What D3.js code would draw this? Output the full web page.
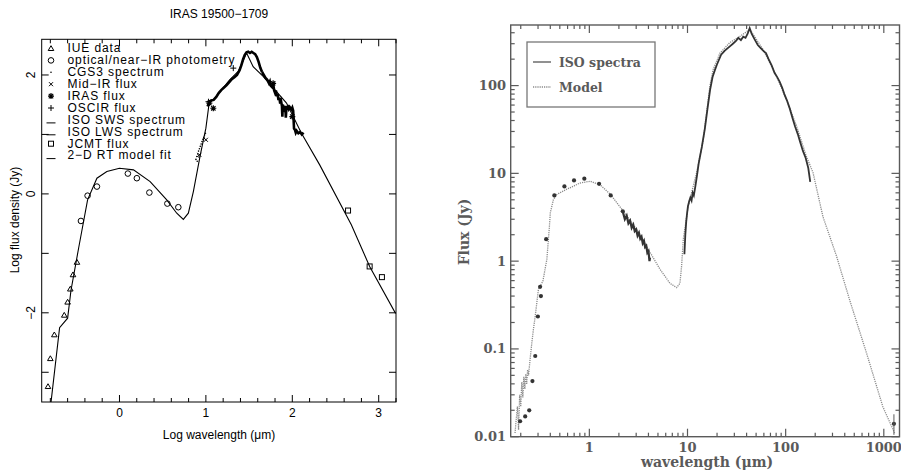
<!DOCTYPE html>
<html>
<head lang="en">
    <meta charset="UTF-8">
    <title>IRAS 19500-1709 SED</title>
    <script type="text/javascript" src="https://d3js.org/d3.v7.min.js"></script>
    <style type="text/css">
        body { margin: 0; background: #fff; }
        .lt { font-family: "Liberation Sans", Arial, sans-serif; font-size: 12px; fill: #000; }
        .rt { font-family: "DejaVu Serif", "Liberation Serif", serif; font-weight: bold; fill: #5a5a5a; }
    </style>
</head>
<body>
<script type="text/javascript">
    // ---------- left panel data (log10 um, log10 Jy) ----------
    var iueData = [[-0.827,-3.24],[-0.80,-2.77],[-0.754,-2.37],[-0.639,-2.04],[-0.60,-1.82],[-0.569,-1.60],[-0.538,-1.36],[-0.492,-1.15]];
    var optData = [[-0.446,-0.455],[-0.369,-0.03],[-0.261,0.123],[0.097,0.342],[0.201,0.264],[0.346,0.022],[0.554,-0.163],[0.681,-0.224]];
    var cgs3Data = [[0.885,0.58],[0.895,0.63],[0.905,0.67],[0.915,0.72],[0.925,0.76],[0.935,0.80],[0.945,0.84],[0.955,0.88],[0.965,0.92],[0.975,0.95],[0.985,0.99],[0.995,1.02],[0.90,0.55],[0.92,0.62]];
    var midIrData = [[0.924,0.657],[1.0,0.91]];
    var irasData = [[1.04,1.527],[1.086,1.44],[1.778,1.86],[2.0,1.30]];
    var oscirData = [[1.317,2.115],[1.03,1.55]];
    var swsData = [[1.02,1.47],[1.04,1.55],[1.06,1.57],[1.09,1.58],[1.12,1.63],[1.15,1.70],[1.18,1.75],[1.21,1.79],[1.24,1.83],[1.27,1.88],[1.30,1.93],[1.33,1.96],[1.36,2.00],[1.39,2.08],[1.41,2.16],[1.43,2.26],[1.45,2.34],[1.47,2.38],[1.49,2.39],[1.51,2.37],[1.53,2.39],[1.55,2.37],[1.57,2.35],[1.59,2.30],[1.61,2.22],[1.63,2.12],[1.65,2.05]];
    var lwsData = [[1.65,2.05],[1.67,2.00],[1.69,1.95],[1.71,1.92],[1.73,1.86],[1.74,1.89],[1.75,1.82],[1.77,1.79],[1.78,1.84],[1.79,1.74],[1.80,1.70],[1.81,1.74],[1.82,1.64],[1.83,1.68],[1.84,1.58],[1.85,1.62],[1.86,1.52],[1.87,1.56],[1.88,1.48],[1.885,1.30],[1.89,1.50],[1.90,1.46],[1.91,1.42],[1.92,1.48],[1.925,1.28],[1.93,1.40],[1.94,1.46],[1.95,1.47],[1.96,1.43],[1.97,1.46],[1.98,1.44],[1.99,1.42],[2.00,1.45],[2.01,1.40],[2.015,1.25],[2.02,1.10],[2.03,1.08],[2.04,1.03],[2.05,1.06],[2.07,1.02],[2.09,1.04],[2.11,1.00],[2.13,1.03]];
    var jcmtData = [[2.645,-0.28],[2.895,-1.22],[3.037,-1.40]];
    var modelLeft = [[-0.792,-3.5],[-0.693,-2.25],[-0.60,-2.09],[-0.561,-1.62],[-0.473,-0.914],[-0.369,-0.10],[-0.261,0.264],[-0.146,0.376],[0.0,0.432],[0.162,0.404],[0.355,0.207],[0.547,-0.10],[0.663,-0.325],[0.739,-0.43],[0.797,-0.325],[0.855,0.04],[0.932,0.63],[1.0,1.105],[1.04,1.55],[1.086,1.58],[1.278,1.92],[1.374,2.06],[1.471,2.37],[1.547,2.14],[1.663,1.975],[1.933,1.527],[2.106,1.02],[2.317,0.488],[2.683,-0.52],[2.895,-1.22],[3.195,-2.01]];
    var legendLabels = ["IUE data","optical/near\u2212IR photometry","CGS3 spectrum","Mid\u2212IR flux","IRAS flux","OSCIR flux","ISO SWS spectrum","ISO LWS spectrum","JCMT flux","2\u2212D RT model fit"];
    var leftXTicks = [0,1,2,3];
    var leftYTicks = [2,0,-2];

    // ---------- right panel data (um, Jy) ----------
    var modelRight = [[0.175,0.011],[0.180,0.016],[0.185,0.022],[0.19,0.012],[0.195,0.03],[0.20,0.022],[0.205,0.042],[0.21,0.028],[0.215,0.048],[0.22,0.035],[0.225,0.052],[0.23,0.04],[0.235,0.058],[0.24,0.05],[0.249,0.076],[0.26,0.12],[0.269,0.166],[0.28,0.23],[0.303,0.48],[0.336,0.59],[0.369,1.05],[0.392,2.5],[0.40,3.55],[0.43,5.0],[0.466,5.75],[0.589,6.6],[0.70,7.2],[0.80,7.76],[1.02,8.13],[1.29,7.4],[1.63,5.8],[2.22,3.7],[3.03,2.3],[4.15,1.26],[5.24,0.81],[6.62,0.56],[7.75,0.50],[8.37,0.56],[8.7,0.87],[9.06,1.78],[10.2,4.3],[12.4,10.2],[14.5,24.5],[16.9,98],[18.2,151],[21.4,234],[27.0,309],[34.1,363],[43.2,437],[58.9,257],[80.5,129],[101.9,69],[128.8,35],[162,15.8],[190,10.2],[240,3.2],[329,1.15],[449,0.36],[664,0.091],[977,0.022],[1288,0.011]];
    var isoNearIr = [[2.2,3.6],[2.3,3.0],[2.4,3.3],[2.5,2.7],[2.6,2.9],[2.7,2.4],[2.8,2.6],[2.9,2.2],[3.0,2.3],[3.1,1.95],[3.2,2.1],[3.3,1.8],[3.4,1.9],[3.5,1.6],[3.6,1.7],[3.7,1.45],[3.8,1.5],[3.9,1.25],[4.0,1.3],[4.1,1.0],[4.15,1.1]];
    var isoFarIr = [[9.3,1.2],[9.5,2.0],[9.7,2.8],[9.9,3.5],[10.1,4.2],[10.4,4.8],[10.7,5.3],[11.0,4.9],[11.3,6.0],[11.6,5.6],[12.0,7.0],[12.5,9.5],[13.0,13],[14.0,20],[15.0,32],[16.0,55],[17.0,90],[18.0,125],[19.0,150],[20.0,175],[22.0,225],[24.0,250],[27.0,280],[29.0,300],[31.0,320],[33.0,350],[35.0,330],[37.0,360],[39.0,350],[41.0,390],[43.0,450],[45.0,390],[48.0,340],[52.0,290],[56.0,265],[60.0,245],[63,235],[67,200],[72,170],[77,140],[82,125],[87,110],[92,95],[97,80],[103,68],[110,55],[118,42],[125,34],[133,28],[140,23],[150,18],[160,15],[170,11.5],[178,8]];
    var photRight = [[0.197,0.015],[0.222,0.017],[0.244,0.020],[0.263,0.043],[0.281,0.083],[0.299,0.234],[0.321,0.40],[0.315,0.51],[0.363,1.78],[0.44,5.6],[0.557,7.1],[0.698,8.3],[0.889,8.7],[1.256,7.6],[1.65,5.6],[2.19,3.7],[1268,0.014]];
    var rightXTicks = [1,10,100,1000];
    var rightYTicks = [0.01,0.1,1,10,100];
    var rightLegend = ["ISO spectra","Model"];

    var svg = d3.select("body").append("svg").attr("width",901).attr("height",470);

    // ================= left panel =================
    var L = svg.append("g");
    var xL = d3.scaleLinear().domain([-0.9,3.2]).range([41.7,396]);
    var yL = d3.scaleLinear().domain([-3.5,2.6]).range([402,39.3]);

    L.append("rect").attr("x",xL(-0.9)).attr("y",yL(2.6))
        .attr("width",xL(3.2)-xL(-0.9)).attr("height",yL(-3.5)-yL(2.6))
        .attr("fill","none").attr("stroke","#000").attr("stroke-width",1);

    // ticks, x every 0.2 with longer ones at integers
    var xMinor = d3.range(-8,33,2).map(function(d){return d/10;});
    xMinor.forEach(function(v){
        var len = Math.abs(v-Math.round(v))<1e-6 ? 7 : 4;
        L.append("line").attr("x1",xL(v)).attr("x2",xL(v)).attr("y1",yL(-3.5)).attr("y2",yL(-3.5)-len).attr("stroke","#000");
        L.append("line").attr("x1",xL(v)).attr("x2",xL(v)).attr("y1",yL(2.6)).attr("y2",yL(2.6)+len).attr("stroke","#000");
    });
    d3.range(-3,3).forEach(function(v){
        L.append("line").attr("x1",xL(-0.9)).attr("x2",xL(-0.9)+7).attr("y1",yL(v)).attr("y2",yL(v)).attr("stroke","#000");
        L.append("line").attr("x1",xL(3.2)).attr("x2",xL(3.2)-7).attr("y1",yL(v)).attr("y2",yL(v)).attr("stroke","#000");
    });
    L.selectAll("text.xt").data(leftXTicks).enter().append("text").attr("class","lt xt")
        .attr("x",function(d){return xL(d);}).attr("y",417).attr("text-anchor","middle").text(function(d){return d;});
    L.selectAll("text.yt").data(leftYTicks).enter().append("text").attr("class","lt yt")
        .attr("transform",function(d){return "translate(35,"+yL(d)+") rotate(-90)";})
        .attr("text-anchor","middle").text(function(d){return d<0 ? "\u2212"+(-d) : d;});

    L.append("text").attr("class","lt").attr("x",219).attr("y",18).attr("text-anchor","middle").attr("font-size",11.5).text("IRAS 19500\u22121709");
    L.append("text").attr("class","lt").attr("x",219).attr("y",439).attr("text-anchor","middle").text("Log wavelength (\u03bcm)");
    L.append("text").attr("class","lt").attr("transform","translate(19,220) rotate(-90)").attr("text-anchor","middle").text("Log flux density (Jy)");

    var lineL = d3.line().x(function(d){return xL(d[0]);}).y(function(d){return yL(d[1]);});
    var clipL = L.append("clipPath").attr("id","clipL").append("rect")
        .attr("x",xL(-0.9)).attr("y",yL(2.6)).attr("width",xL(3.2)-xL(-0.9)).attr("height",yL(-3.5)-yL(2.6));
    var P = L.append("g").attr("clip-path","url(#clipL)");

    P.append("path").datum(modelLeft).attr("d",lineL).attr("fill","none").attr("stroke","#000").attr("stroke-width",1.1);
    P.append("path").datum(swsData).attr("d",lineL).attr("fill","none").attr("stroke","#000").attr("stroke-width",2.6);
    P.append("path").datum(lwsData).attr("d",lineL).attr("fill","none").attr("stroke","#000").attr("stroke-width",2.6);

    // symbol drawers
    function tri(g,x,y){ g.append("path").attr("d","M"+x+","+(y-2.8)+"L"+(x+2.8)+","+(y+2)+"L"+(x-2.8)+","+(y+2)+"Z").attr("fill","none").attr("stroke","#000"); }
    function circ(g,x,y){ g.append("circle").attr("cx",x).attr("cy",y).attr("r",2.8).attr("fill","none").attr("stroke","#000"); }
    function dot(g,x,y){ g.append("circle").attr("cx",x).attr("cy",y).attr("r",0.8).attr("fill","#000"); }
    function cross(g,x,y){ g.append("path").attr("d","M"+(x-2)+","+(y-2)+"L"+(x+2)+","+(y+2)+"M"+(x-2)+","+(y+2)+"L"+(x+2)+","+(y-2)).attr("stroke","#000"); }
    function star(g,x,y){ g.append("path").attr("d","M"+(x-2.2)+","+(y-2.2)+"L"+(x+2.2)+","+(y+2.2)+"M"+(x-2.2)+","+(y+2.2)+"L"+(x+2.2)+","+(y-2.2)+"M"+(x-3)+","+y+"L"+(x+3)+","+y+"M"+x+","+(y-3)+"L"+x+","+(y+3)).attr("stroke","#000").attr("stroke-width",1.2); }
    function plus(g,x,y){ g.append("path").attr("d","M"+(x-3)+","+y+"L"+(x+3)+","+y+"M"+x+","+(y-3)+"L"+x+","+(y+3)).attr("stroke","#000"); }
    function sq(g,x,y){ g.append("rect").attr("x",x-2.5).attr("y",y-2.5).attr("width",5).attr("height",5).attr("fill","none").attr("stroke","#000"); }
    function dash(g,x,y){ g.append("line").attr("x1",x-4.5).attr("x2",x+4.5).attr("y1",y+3).attr("y2",y+3).attr("stroke","#000"); }

    iueData.forEach(function(d){ tri(P,xL(d[0]),yL(d[1])); });
    optData.forEach(function(d){ circ(P,xL(d[0]),yL(d[1])); });
    cgs3Data.forEach(function(d){ dot(P,xL(d[0]),yL(d[1])); });
    midIrData.forEach(function(d){ cross(P,xL(d[0]),yL(d[1])); });
    irasData.forEach(function(d){ star(P,xL(d[0]),yL(d[1])); });
    oscirData.forEach(function(d){ plus(P,xL(d[0]),yL(d[1])); });
    jcmtData.forEach(function(d){ sq(P,xL(d[0]),yL(d[1])); });

    // legend
    var syms = [tri,circ,dot,cross,star,plus,dash,dash,sq,dash];
    legendLabels.forEach(function(t,i){
        var y = 48.5 + i*11.9;
        syms[i](L,51,y);
        L.append("text").attr("class","lt").attr("x",67.5).attr("y",y+3.8).attr("font-size",10.2).attr("letter-spacing",0.9).text(t);
    });

    // ================= right panel =================
    var R = svg.append("g");
    var grey = "#5a5a5a";
    var xR = d3.scaleLog().domain([0.158,1445]).range([510.7,899.5]);
    var yR = d3.scaleLog().domain([0.01,490]).range([436.7,25]);

    R.append("rect").attr("x",xR(0.158)).attr("y",yR(490))
        .attr("width",xR(1445)-xR(0.158)).attr("height",yR(0.01)-yR(490))
        .attr("fill","none").attr("stroke",grey).attr("stroke-width",1.4);

    var xLogTicks = [];
    [0.1,1,10,100,1000].forEach(function(dec){
        for (var k=1;k<10;k++){ var v=dec*k; if (v>=0.158 && v<=1445) xLogTicks.push(v); }
    });
    xLogTicks.forEach(function(v){
        var major = rightXTicks.indexOf(v)>=0;
        var len = major ? 8 : 4;
        R.append("line").attr("x1",xR(v)).attr("x2",xR(v)).attr("y1",yR(0.01)).attr("y2",yR(0.01)-len).attr("stroke",grey).attr("stroke-width",1.2);
        R.append("line").attr("x1",xR(v)).attr("x2",xR(v)).attr("y1",yR(490)).attr("y2",yR(490)+len).attr("stroke",grey).attr("stroke-width",1.2);
    });
    var yLogTicks = [];
    [0.01,0.1,1,10,100].forEach(function(dec){
        for (var k=1;k<10;k++){ var v=dec*k; if (v>=0.01 && v<=490) yLogTicks.push(v); }
    });
    yLogTicks.forEach(function(v){
        var major = rightYTicks.some(function(t){return Math.abs(t-v)/t<1e-6;});
        var len = major ? 8 : 4;
        R.append("line").attr("x1",xR(0.158)).attr("x2",xR(0.158)+len).attr("y1",yR(v)).attr("y2",yR(v)).attr("stroke",grey).attr("stroke-width",1.2);
        R.append("line").attr("x1",xR(1445)).attr("x2",xR(1445)-len).attr("y1",yR(v)).attr("y2",yR(v)).attr("stroke",grey).attr("stroke-width",1.2);
    });
    R.selectAll("text.xt").data(rightXTicks).enter().append("text").attr("class","rt xt").attr("font-size",13)
        .attr("x",function(d){return xR(d);}).attr("y",451.5).attr("text-anchor","middle").text(function(d){return d;});
    R.selectAll("text.yt").data(rightYTicks).enter().append("text").attr("class","rt yt").attr("font-size",13)
        .attr("x",506).attr("y",function(d){return yR(d)+4.5;}).attr("text-anchor","end").text(function(d){return d;});
    R.append("text").attr("class","rt").attr("font-size",14).attr("x",707).attr("y",467).attr("text-anchor","middle").text("wavelength (\u03bcm)");
    R.append("text").attr("class","rt").attr("font-size",14).attr("transform","translate(469,232) rotate(-90)").attr("text-anchor","middle").text("Flux (Jy)");

    var lineR = d3.line().x(function(d){return xR(d[0]);}).y(function(d){return yR(d[1]);});
    R.append("path").datum(modelRight).attr("d",lineR).attr("fill","none").attr("stroke","#8a8a8a").attr("stroke-width",1.3).attr("stroke-dasharray","1.2,1");
    R.append("path").datum(isoNearIr).attr("d",lineR).attr("fill","none").attr("stroke","#333").attr("stroke-width",2.2);
    R.append("path").datum(isoFarIr).attr("d",lineR).attr("fill","none").attr("stroke","#333").attr("stroke-width",1.8);
    R.selectAll("circle.ph").data(photRight).enter().append("circle").attr("class","ph")
        .attr("cx",function(d){return xR(d[0]);}).attr("cy",function(d){return yR(d[1]);})
        .attr("r",2.1).attr("fill","#333");
    R.append("line").attr("x1",xR(1268)).attr("x2",xR(1268)).attr("y1",yR(0.018)).attr("y2",yR(0.0105)).attr("stroke",grey);

    // legend box
    R.append("rect").attr("x",527).attr("y",42).attr("width",128).attr("height",65)
        .attr("fill","#fff").attr("stroke","#777").attr("stroke-width",1.3);
    rightLegend.forEach(function(t,i){
        var y = 62 + i*25;
        R.append("line").attr("x1",533).attr("x2",551).attr("y1",y).attr("y2",y)
            .attr("stroke",i==0 ? "#555" : "#8a8a8a").attr("stroke-width",1.3)
            .attr("stroke-dasharray",i==0 ? null : "1.2,1");
        R.append("text").attr("class","rt").attr("font-size",12.5).attr("x",559).attr("y",y+4.5).text(t);
    });
</script>
</body>
</html>
